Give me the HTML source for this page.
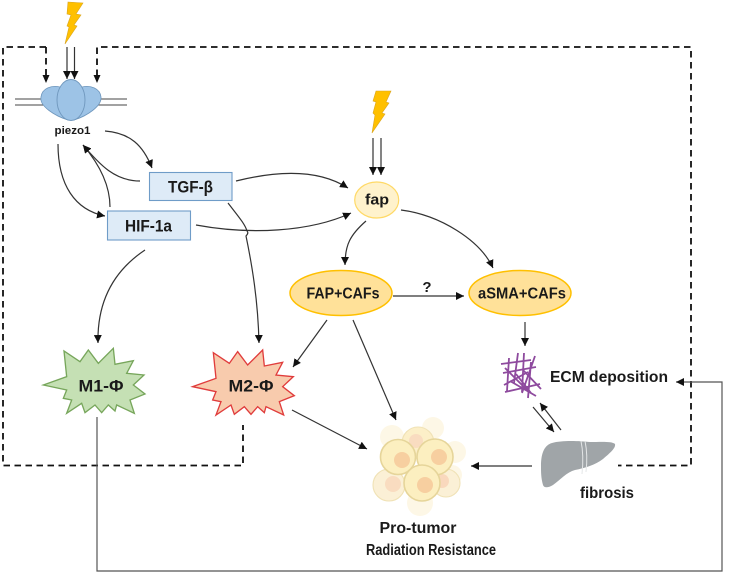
<!DOCTYPE html>
<html><head><meta charset="utf-8"><style>
html,body{margin:0;padding:0;background:#fff;width:751px;height:573px;overflow:hidden}
svg{display:block;filter:blur(.35px)}
text{font-family:"Liberation Sans",sans-serif;font-weight:bold;fill:#1a1a1a;text-anchor:middle}
.c{fill:none;stroke:#333;stroke-width:1.2}
.d{fill:none;stroke:#111;stroke-width:1.8;stroke-dasharray:6.5 4.5}
.g{fill:none;stroke:#555;stroke-width:1.2}
.e{fill:none;stroke:#8e4a9e;stroke-width:1.8}
</style></head><body>
<svg width="751" height="573" viewBox="0 0 751 573" xmlns="http://www.w3.org/2000/svg">
<defs>
<marker id="a" markerUnits="userSpaceOnUse" markerWidth="9" markerHeight="8" refX="8" refY="4" orient="auto"><path d="M0 0L8 4L0 8Z" fill="#111"/></marker>
<g id="star"><polygon points="130,165 200,140 192,63 240,95 265,60 295,100 340,55 345,103 400,92 380,130 432,135 400,165 435,192 390,210 403,250 350,225 345,243 325,225 305,248 285,225 255,248 245,220 200,250 215,210 190,205 200,180"/></g>
</defs>

<!-- dashed feedback -->
<path class="d" d="M46 47H3V465.5H243V425"/>
<path class="d" d="M46 47V76"/>
<path class="d" d="M97 76V47H691V465.5H618"/>
<path d="M42.5 75H49.5L46 83Z M93.5 75H100.5L97 83Z" fill="#111"/>

<!-- solid route -->
<path class="g" d="M97 417V571H722V382H676" marker-end="url(#a)"/>

<!-- bolts -->
<polygon points="376,91 391,91 386,102 389,103 382,113 385,114 372,133 375,115 373,113 376,102 373,101" fill="#ffc000" stroke="#d9a520" stroke-width=".6"/>
<polygon points="68,2 83,3 76,14 81,15 74,25 77,26 65,44 69,27 67,26 71,15 67,14" fill="#ffc000" stroke="#d9a520" stroke-width=".6"/>
<path class="c" d="M67 47V79" marker-end="url(#a)"/>
<path class="c" d="M74.5 47V79" marker-end="url(#a)"/>
<path class="c" d="M373 138V175" marker-end="url(#a)"/>
<path class="c" d="M381 138V175" marker-end="url(#a)"/>

<!-- piezo -->
<path d="M15 99H45M15 105H45M98 99H127M98 105H127" stroke="#444" stroke-width="1" fill="none"/>
<path d="M41 97C42 88 52 85 60 87L68 120C55 116 39 106 41 97Z" fill="#9dc3e6" stroke="#6f97bd" stroke-width=".8"/>
<path d="M101 97C100 88 90 85 82 87L74 120C87 116 102 106 101 97Z" fill="#9dc3e6" stroke="#6f97bd" stroke-width=".8"/>
<ellipse cx="71" cy="100" rx="14" ry="20.5" fill="#9dc3e6" stroke="#6f97bd" stroke-width=".9"/>
<text x="72.5" y="134" font-size="11" textLength="36" lengthAdjust="spacingAndGlyphs">piezo1</text>

<!-- curves -->
<path class="c" d="M105 131C130 133 143 145 152 168" marker-end="url(#a)"/>
<path class="c" d="M140 181C115 181 100 165 83 145" marker-end="url(#a)"/>
<path class="c" d="M110 207C110 185 100 165 83 145" marker-end="url(#a)"/>
<path class="c" d="M58 144C58 185 75 210 105 216" marker-end="url(#a)"/>
<path class="c" d="M236 181C280 170 320 170 348 188" marker-end="url(#a)"/>
<path class="c" d="M196 225C250 235 310 232 351 213" marker-end="url(#a)"/>
<path class="c" d="M228 203C238 216 245 224 247 231Q249 233 246 236C252 265 258 300 259 343" marker-end="url(#a)"/>
<path class="c" d="M145 250C115 270 97 300 98 343" marker-end="url(#a)"/>
<path class="c" d="M366 221C350 235 345 245 345 265" marker-end="url(#a)"/>
<path class="c" d="M401 210C440 215 480 240 493 268" marker-end="url(#a)"/>
<path class="c" d="M393 296H464" marker-end="url(#a)"/>
<path class="c" d="M525 322V346" marker-end="url(#a)"/>
<path class="c" d="M327 320L293 367" marker-end="url(#a)"/>
<path class="c" d="M353 320L396 420" marker-end="url(#a)"/>
<path class="c" d="M292 410L367 449" marker-end="url(#a)"/>
<path class="c" d="M532 466H471" marker-end="url(#a)"/>
<path class="c" d="M533 407L554 432" marker-end="url(#a)"/>
<path class="c" d="M561 430L540 403" marker-end="url(#a)"/>

<!-- boxes -->
<rect x="149.5" y="172.5" width="82.5" height="28" fill="#deebf7" stroke="#6f9cc8" stroke-width="1.1"/>
<text x="190.5" y="192.5" font-size="17" textLength="45" lengthAdjust="spacingAndGlyphs">TGF-β</text>
<rect x="107.5" y="211" width="83" height="29" fill="#deebf7" stroke="#6f9cc8" stroke-width="1.1"/>
<text x="148.5" y="231.5" font-size="17" textLength="47" lengthAdjust="spacingAndGlyphs">HIF-1a</text>

<!-- ellipses -->
<ellipse cx="376.7" cy="200" rx="22" ry="18" fill="#fff2cc" stroke="#ffd966" stroke-width="1.2"/>
<text x="377" y="204.5" font-size="15" textLength="24" lengthAdjust="spacingAndGlyphs">fap</text>
<ellipse cx="341" cy="293" rx="51" ry="22.5" fill="#ffe199" stroke="#ffc000" stroke-width="1.5"/>
<text x="343" y="298.5" font-size="15.5" textLength="73" lengthAdjust="spacingAndGlyphs">FAP+CAFs</text>
<ellipse cx="520" cy="293" rx="51" ry="22.5" fill="#ffe199" stroke="#ffc000" stroke-width="1.5"/>
<text x="522" y="298.5" font-size="15.5" textLength="88" lengthAdjust="spacingAndGlyphs">aSMA+CAFs</text>
<text x="427" y="292" font-size="15">?</text>

<!-- stars -->
<g transform="translate(0,330) scale(.33333)" fill="#c5e0b4" stroke="#77a65b" stroke-width="4"><use href="#star"/></g>
<text x="101" y="391.5" font-size="17" textLength="45" lengthAdjust="spacingAndGlyphs">M1-Φ</text>
<g transform="translate(0,330) scale(.33333)" fill="#f8cbad" stroke="#e03c3c" stroke-width="4"><use href="#star" x="448" y="5"/></g>
<text x="251" y="391.5" font-size="17" textLength="45" lengthAdjust="spacingAndGlyphs">M2-Φ</text>

<!-- ECM -->
<path class="e" d="M501 364L531 360M503 373L536 367M504 385L528 372M505 392L540 384M510 381L536 396M516 374L531 393M523 370L541 389M505 368L528 391"/>
<path class="e" d="M509 358L507 391M518 353L514 383M524 353L522 392M535 356L522 393M531 362L528 398"/>

<!-- tumor -->
<g transform="translate(370,415)">
<g fill="#fdf7e6">
<circle cx="63" cy="13" r="11"/><circle cx="22" cy="22" r="12"/><circle cx="85" cy="37" r="11"/><circle cx="50" cy="88" r="13"/><circle cx="82" cy="60" r="10"/>
</g>
<g fill="#fbf0d6" stroke="#f0e2b6" stroke-width="1.1">
<circle cx="19" cy="70" r="16"/>
<circle cx="76" cy="68" r="14"/>
<circle cx="48" cy="28" r="16" fill="#fcefc8"/>
</g>
<circle cx="23" cy="69" r="8" fill="#f9dcc0"/><circle cx="72" cy="66" r="7" fill="#f9d8bd"/><circle cx="46" cy="26" r="7" fill="#f9dcc0"/>
<g fill="#fcefc0" stroke="#e6d59a" stroke-width="1.6">
<circle cx="28" cy="42" r="17.5"/><circle cx="65" cy="42" r="18"/><circle cx="52" cy="68" r="18"/>
</g>
<circle cx="32" cy="45" r="8" fill="#f7cfa0"/><circle cx="69" cy="42" r="8" fill="#f7cfa0"/><circle cx="55" cy="70" r="8" fill="#f7cfa0"/>
</g>

<!-- liver -->
<path d="M541 466C541 452 545 445 552 443C562 440 580 441 590 442C600 442 612 441 615 444C616 448 610 453 603 459C595 465 585 468 575 470C567 472 560 480 553 485C548 488 544 488 543 485C541 478 541 472 541 466Z" fill="#a0a5a8"/>
<path d="M581 441Q584 455 582 474M585 441Q588 455 586 472" stroke="#e4e6e7" stroke-width="1" fill="none"/>

<!-- labels -->
<text x="609" y="382" font-size="15.5" textLength="118" lengthAdjust="spacingAndGlyphs">ECM deposition</text>
<text x="607" y="498" font-size="15.5" textLength="54" lengthAdjust="spacingAndGlyphs">fibrosis</text>
<text x="418" y="533" font-size="15.5" textLength="77" lengthAdjust="spacingAndGlyphs">Pro-tumor</text>
<text x="431" y="555" font-size="15.5" textLength="130" lengthAdjust="spacingAndGlyphs">Radiation Resistance</text>
</svg>
</body></html>
